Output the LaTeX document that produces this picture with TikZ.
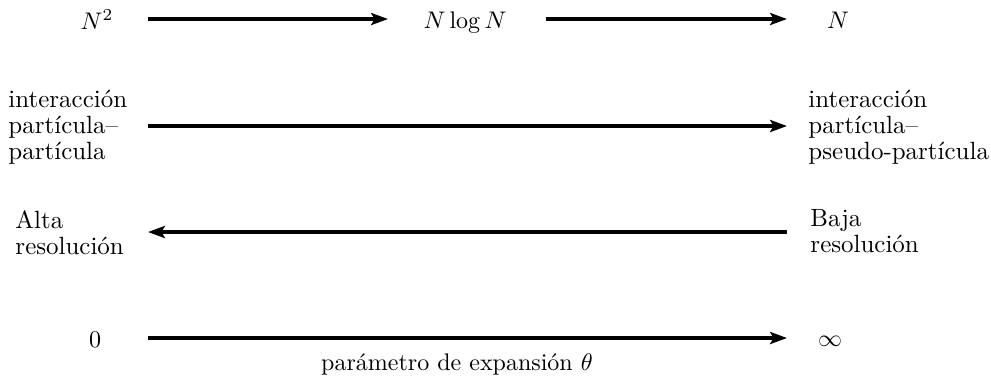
\documentclass[tikz,border=0pt]{standalone}
\usetikzlibrary{arrows.meta}
\begin{document}
\begin{tikzpicture}[x=0.4167pt,y=-0.4167pt,
  conn/.style={line width=1.4pt,-{Stealth[length=7pt,width=5pt,inset=1.4pt]}},
  lbl/.style={inner sep=0pt,font=\fontsize{10.4}{10.8}\selectfont},
  blk/.style={lbl,align=left,anchor=west}]
\useasboundingbox (0,0) rectangle (991,380);
% row 1
\node[lbl,anchor=base] (n2) at (97,29) {$N^2$};
\node[lbl,anchor=base] (nlog) at (465,28) {$N\log N$};
\node[lbl,anchor=base] (n) at (838,28) {$N$};
\coordinate (a1s) at (148,19);
\coordinate (a1e) at (388,19);
\coordinate (a2s) at (546,19);
\coordinate (a2e) at (787,19);
\draw[conn] (a1s) -- (a1e);
\draw[conn] (a2s) -- (a2e);
% row 2
\node[blk] (pp) at (8,127) {interacción\\partícula--\\partícula};
\node[blk] (ppp) at (808,127) {interacción\\partícula--\\pseudo-partícula};
\coordinate (b1) at (148,126);
\coordinate (b2) at (787,126);
\draw[conn] (b1) -- (b2);
% row 3
\node[blk] (alta) at (15,233) {Alta\\resolución};
\node[blk] (baja) at (810,231) {Baja\\resolución};
\coordinate (c1) at (787,232);
\coordinate (c2) at (148,232);
\draw[conn] (c1) -- (c2);
% row 4
\node[lbl,anchor=base] (zero) at (95,347) {$0$};
\node[lbl,anchor=base] (inf) at (830,346) {$\infty$};
\coordinate (d1) at (148,338);
\coordinate (d2) at (787,338);
\draw[conn] (d1) -- (d2);
\node[lbl,anchor=base,font=\fontsize{10}{10}\selectfont] (param) at (457,370) {parámetro de expansión $\theta$};
\end{tikzpicture}
\end{document}
